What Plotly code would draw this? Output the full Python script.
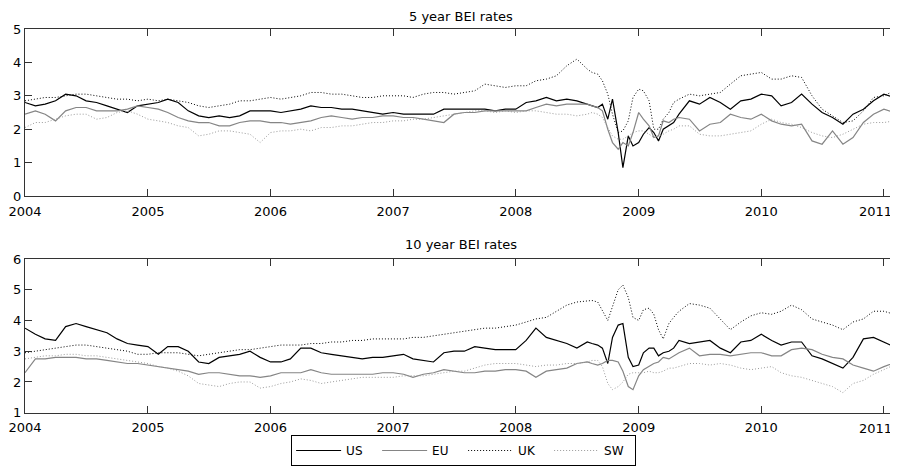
import pandas as pd
import plotly.graph_objects as go

# ---- dates: monthly, semi-monthly around the 2008 crisis ----
dates = (list(pd.date_range('2004-01-01', '2008-08-01', freq='MS'))
         + list(pd.date_range('2008-08-15', '2009-04-15', freq='SMS'))
         + list(pd.date_range('2009-05-01', '2011-02-01', freq='MS'))
         + [pd.Timestamp('2011-02-09')])

# ---- 5 year BEI rates ----
us5 = [2.8, 2.7, 2.75, 2.85, 3.05, 3.0, 2.85, 2.8, 2.7, 2.6, 2.5, 2.7,
       2.75, 2.8, 2.9, 2.8, 2.55, 2.4, 2.35, 2.4, 2.35, 2.4, 2.55, 2.55,
       2.55, 2.5, 2.55, 2.6, 2.7, 2.65, 2.65, 2.6, 2.6, 2.55, 2.5, 2.45,
       2.5, 2.45, 2.45, 2.45, 2.45, 2.6, 2.6, 2.6, 2.6, 2.6, 2.55, 2.6,
       2.6, 2.8, 2.85, 2.95, 2.85, 2.9, 2.85, 2.75,
       2.7, 2.65, 2.75, 2.3, 2.9, 1.9, 0.85, 1.8, 1.5, 1.6, 1.85, 2.05, 1.9, 1.65, 2.0, 2.1, 2.2,
       2.45, 2.85, 2.75, 2.95, 2.8, 2.6, 2.85, 2.9,
       3.05, 3.0, 2.7, 2.8, 3.05, 2.75, 2.5, 2.35, 2.15, 2.45, 2.6, 2.85,
       3.05, 2.95, 3.0]
eu5 = [2.45, 2.55, 2.45, 2.25, 2.55, 2.65, 2.65, 2.55, 2.55, 2.55, 2.6, 2.7,
       2.65, 2.6, 2.5, 2.35, 2.25, 2.2, 2.2, 2.1, 2.1, 2.2, 2.25, 2.25,
       2.2, 2.2, 2.15, 2.2, 2.25, 2.35, 2.4, 2.35, 2.3, 2.35, 2.35, 2.4,
       2.4, 2.35, 2.35, 2.3, 2.25, 2.2, 2.45, 2.5, 2.5, 2.55, 2.55, 2.55,
       2.55, 2.55, 2.65, 2.75, 2.7, 2.75, 2.75, 2.75,
       2.7, 2.65, 2.55, 2.0, 1.6, 1.4, 1.6, 1.5, 1.9, 2.5, 2.3, 2.1, 1.75, 1.8, 2.25, 2.2, 2.3,
       2.35, 2.3, 1.95, 2.15, 2.2, 2.45, 2.35, 2.3,
       2.45, 2.25, 2.15, 2.1, 2.15, 1.65, 1.55, 1.95, 1.55, 1.75, 2.2, 2.45,
       2.6, 2.5, 2.4]
uk5 = [2.85, 2.9, 2.95, 2.95, 3.0, 3.05, 3.05, 3.0, 2.95, 2.9, 2.9, 2.85,
       2.9, 2.85, 2.9, 2.85, 2.8, 2.7, 2.65, 2.7, 2.75, 2.85, 2.85, 2.9,
       2.95, 2.9, 2.95, 3.0, 3.1, 3.1, 3.05, 3.05, 3.0, 2.95, 2.95, 3.0,
       3.0, 3.0, 2.95, 3.05, 3.1, 3.1, 3.05, 3.1, 3.15, 3.35, 3.3, 3.25,
       3.3, 3.3, 3.45, 3.5, 3.6, 3.9, 4.1, 3.8,
       3.7, 3.65, 3.45, 3.05, 2.45, 1.9, 1.95, 2.25, 2.95, 3.2, 3.15, 2.85, 2.0, 2.0, 2.3, 2.5, 2.8,
       2.9, 3.05, 3.0, 3.05, 3.1, 3.35, 3.6, 3.65,
       3.7, 3.5, 3.5, 3.6, 3.55, 3.0, 2.6, 2.4, 2.2, 2.25, 2.55, 2.95,
       3.0, 3.15, 3.2]
sw5 = [2.05, 2.2, 2.2, 2.3, 2.4, 2.45, 2.45, 2.3, 2.35, 2.5, 2.55, 2.45,
       2.3, 2.25, 2.2, 2.1, 2.05, 1.8, 1.85, 1.95, 1.95, 1.9, 1.85, 1.6,
       1.9, 1.95, 1.95, 2.0, 1.95, 2.05, 2.05, 2.1, 2.1, 2.15, 2.2, 2.2,
       2.25, 2.25, 2.3, 2.3, 2.35, 2.4, 2.45, 2.5, 2.55, 2.55, 2.5, 2.55,
       2.5, 2.55, 2.55, 2.5, 2.45, 2.45, 2.4, 2.45,
       2.5, 2.45, 2.35, 2.05, 1.8, 1.7, 1.7, 1.8, 1.9, 1.95, 1.95, 1.85, 1.75, 1.8, 1.85, 1.95, 2.0,
       2.1, 2.1, 1.85, 1.8, 1.8, 1.85, 1.9, 1.95,
       2.15, 2.3, 2.2, 2.15, 2.05, 1.9, 1.8, 1.75, 1.85, 2.0, 2.15, 2.2,
       2.2, 2.25, 2.25]

# ---- 10 year BEI rates ----
us10 = [3.75, 3.55, 3.4, 3.35, 3.8, 3.9, 3.8, 3.7, 3.6, 3.4, 3.25, 3.2,
        3.15, 2.9, 3.15, 3.15, 3.0, 2.65, 2.6, 2.8, 2.85, 2.9, 3.0, 2.8,
        2.65, 2.65, 2.75, 3.1, 3.1, 2.95, 2.9, 2.85, 2.8, 2.75, 2.8, 2.8,
        2.85, 2.9, 2.75, 2.7, 2.65, 2.95, 3.0, 3.0, 3.15, 3.1, 3.05, 3.05,
        3.05, 3.35, 3.75, 3.45, 3.35, 3.25, 3.1, 3.3,
        3.25, 3.2, 3.1, 2.6, 3.45, 3.85, 3.9, 2.8, 2.5, 2.55, 2.95, 3.1, 3.1, 2.85, 2.95, 3.0, 3.1,
        3.35, 3.25, 3.3, 3.35, 3.1, 2.95, 3.3, 3.35,
        3.55, 3.35, 3.2, 3.3, 3.3, 2.85, 2.75, 2.6, 2.45, 2.8, 3.4, 3.45,
        3.3, 3.15, 3.1]
eu10 = [2.3, 2.75, 2.75, 2.8, 2.8, 2.8, 2.75, 2.75, 2.7, 2.65, 2.6, 2.6,
        2.55, 2.5, 2.45, 2.4, 2.35, 2.25, 2.3, 2.3, 2.25, 2.2, 2.2, 2.15,
        2.2, 2.3, 2.3, 2.3, 2.4, 2.3, 2.25, 2.25, 2.25, 2.25, 2.25, 2.3,
        2.3, 2.25, 2.15, 2.25, 2.3, 2.4, 2.35, 2.3, 2.3, 2.35, 2.35, 2.4,
        2.4, 2.35, 2.15, 2.35, 2.4, 2.45, 2.6, 2.65,
        2.6, 2.55, 2.6, 2.7, 2.7, 2.65, 2.35, 1.85, 1.75, 2.2, 2.4, 2.5, 2.6, 2.65, 2.8, 2.75, 2.85,
        2.95, 3.1, 2.85, 2.9, 2.9, 2.85, 2.9, 2.95,
        2.95, 2.85, 2.85, 3.05, 3.1, 3.05, 2.9, 2.8, 2.75, 2.55, 2.45, 2.35,
        2.5, 2.6, 2.65]
uk10 = [2.95, 3.0, 3.05, 3.1, 3.15, 3.2, 3.2, 3.15, 3.1, 3.05, 3.0, 2.9,
        2.9, 2.95, 2.95, 2.95, 2.9, 2.85, 2.9, 2.95, 3.0, 3.05, 3.05, 3.1,
        3.15, 3.2, 3.2, 3.2, 3.25, 3.25, 3.3, 3.3, 3.35, 3.35, 3.4, 3.4,
        3.4, 3.4, 3.45, 3.45, 3.5, 3.55, 3.6, 3.65, 3.7, 3.75, 3.75, 3.8,
        3.85, 3.95, 4.05, 4.1, 4.3, 4.5, 4.6, 4.65,
        4.65, 4.6, 4.3, 4.0, 4.45, 5.0, 5.15, 4.75, 4.1, 4.0, 4.35, 4.4, 4.2, 3.7, 3.4, 3.9, 4.1,
        4.3, 4.55, 4.5, 4.4, 4.05, 3.7, 3.95, 4.15,
        4.25, 4.2, 4.3, 4.5, 4.35, 4.05, 3.95, 3.85, 3.7, 3.95, 4.05, 4.3,
        4.3, 4.2, 4.2]
sw10 = [2.75, 2.8, 2.85, 2.85, 2.9, 2.9, 2.85, 2.85, 2.8, 2.75, 2.7, 2.65,
        2.6, 2.5, 2.45, 2.35, 2.2, 1.95, 1.9, 1.85, 1.95, 2.0, 2.0, 1.8,
        1.85, 1.95, 2.0, 2.1, 2.05, 1.95, 2.0, 2.05, 2.1, 2.15, 2.15, 2.15,
        2.15, 2.2, 2.2, 2.2, 2.25, 2.3, 2.35, 2.35, 2.45, 2.55, 2.6, 2.6,
        2.6, 2.55, 2.5, 2.55, 2.55, 2.6, 2.6, 2.65,
        2.7, 2.7, 2.5, 1.95, 1.75, 1.85, 2.0, 2.25, 2.3, 2.3, 2.3, 2.35, 2.3, 2.3, 2.35, 2.45, 2.45,
        2.5, 2.6, 2.6, 2.55, 2.6, 2.55, 2.45, 2.4,
        2.45, 2.5, 2.3, 2.2, 2.15, 2.05, 1.95, 1.85, 1.65, 1.95, 2.05, 2.25,
        2.4, 2.55, 2.6]

names = ['US', 'EU', 'UK', 'SW']
titles = ['5 year BEI rates', '10 year BEI rates']
year_ticks = ['2004', '2005', '2006', '2007', '2008', '2009', '2010', '2011']

styles = {
    'US': dict(color='black', width=1.2, dash='solid'),
    'EU': dict(color='#858585', width=1.2, dash='solid'),
    'UK': dict(color='black', width=1.0, dash='1px,2px'),
    'SW': dict(color='#9a9a9a', width=1.0, dash='1px,2px'),
}

fig = go.Figure()
panels = [([us5, eu5, uk5, sw5], 'x', 'y'), ([us10, eu10, uk10, sw10], 'x2', 'y2')]
for pi, (series, xa, ya) in enumerate(panels):
    for name, vals in zip(names, series):
        fig.add_trace(go.Scatter(
            x=dates, y=vals, mode='lines', name=name, xaxis=xa, yaxis=ya,
            line=styles[name], showlegend=(pi == 0), legendgroup=name))

# The page adds an 8px body margin, so the figure is 8px smaller than the window.
W, H = 890, 459
font = dict(family='DejaVu Sans', size=13, color='black')
axis_common = dict(showline=True, linecolor='#333333', linewidth=1, mirror='allticks',
                   ticks='inside', ticklen=7, tickcolor='#333333', showgrid=False,
                   zeroline=False, tickfont=font, automargin=False)
xr = ['2004-01-01', '2011-02-09']
tickvals = [pd.Timestamp(t + '-01-01') for t in year_ticks]
ticktext = year_ticks[:-1] + ['']   # last label placed right-aligned at the edge

annotations = [
    dict(text=titles[0], x=0.5, y=1 - 8 / H, xref='paper', yref='paper',
         showarrow=False, font=font, xanchor='center', yanchor='middle'),
    dict(text=titles[1], x=0.5, y=1 - 236 / H, xref='paper', yref='paper',
         showarrow=False, font=font, xanchor='center', yanchor='middle'),
]
for ya_dom in (0.5904, 0.1183):
    annotations.append(dict(text=year_ticks[-1], x=1, y=ya_dom, xref='paper', yref='paper',
                            showarrow=False, font=font, xanchor='right', yanchor='top',
                            xshift=-3, yshift=-6))

fig.update_layout(
    width=W, height=H,
    margin=dict(l=17, r=1, t=0, b=0, autoexpand=False),
    paper_bgcolor='white', plot_bgcolor='white',
    font=font,
    xaxis=dict(domain=[0, 1], anchor='y', range=xr, tickvals=tickvals, ticktext=ticktext,
               ticklabelstandoff=3, **axis_common),
    yaxis=dict(domain=[0.5904, 0.9542], anchor='x', range=[0, 5], dtick=1, **axis_common),
    xaxis2=dict(domain=[0, 1], anchor='y2', range=xr, tickvals=tickvals, ticktext=ticktext,
                ticklabelstandoff=3, **axis_common),
    yaxis2=dict(domain=[0.1183, 0.4532], anchor='x2', range=[1, 6], dtick=1, **axis_common),
    legend=dict(orientation='h', x=0.503, xanchor='center', y=1 - 427 / H, yanchor='top',
                bordercolor='black', borderwidth=1,
                font=dict(family='DejaVu Sans', size=12, color='black'),
                itemwidth=45, entrywidth=26, tracegroupgap=0),
    annotations=annotations,
)

fig.write_html('out.html')
